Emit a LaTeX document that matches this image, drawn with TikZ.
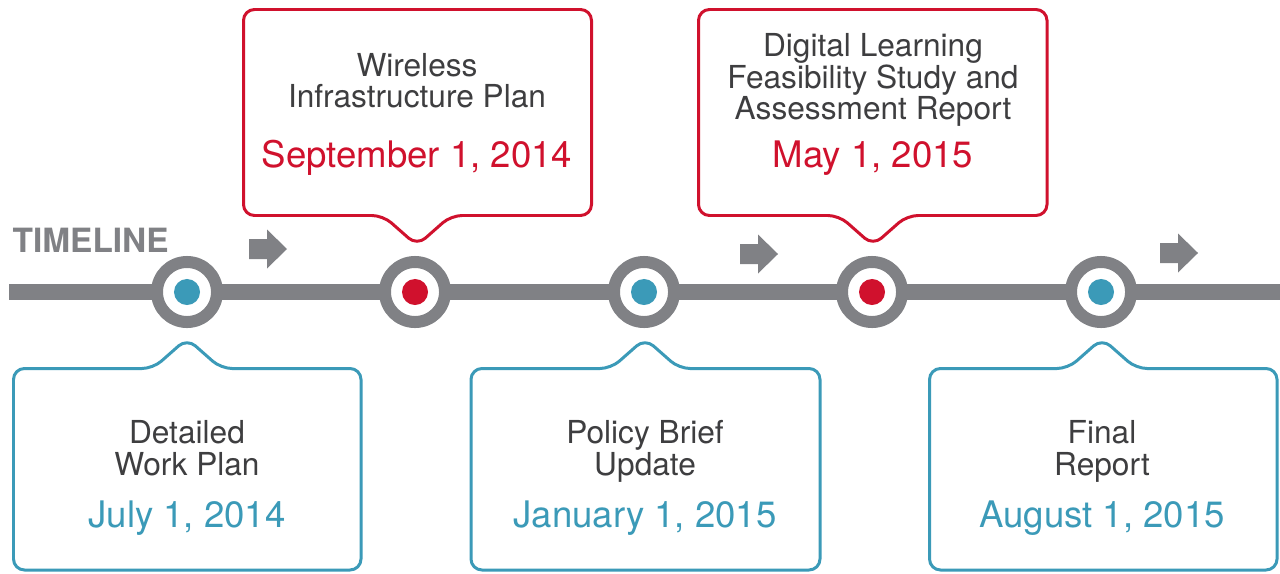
\documentclass[tikz,border=0pt]{standalone}
\usepackage{fontspec}
\setmainfont{TeX Gyre Heros}
\definecolor{tlred}{RGB}{208,17,45}
\definecolor{tlblue}{RGB}{59,154,184}
\definecolor{tlgray}{RGB}{128,129,133}
\definecolor{tltext}{RGB}{62,62,64}
\tikzset{
  ring/.style={circle, draw=tlgray, line width=3.41pt, fill=white, minimum size=0.6cm, inner sep=0pt},
  dot/.style={circle, minimum size=0.26cm, inner sep=0pt},
  callout/.style={line width=0.85pt, rounded corners=1.1mm, fill=white},
  title/.style={text=tltext, font=\fontsize{9}{9}\selectfont, align=center, anchor=base},
  date/.style={font=\fontsize{10.4}{11}\selectfont, anchor=base}
}

\begin{document}
\begin{tikzpicture}[x=0.01cm, y=-0.01cm]
  \useasboundingbox (0,0) rectangle (1280,573);
  % timeline bar
  \coordinate (start) at (9,292);
  \coordinate (end) at (1280,292);
  \draw[tlgray, line width=4.55pt] (start) -- (end);
  \node[anchor=base west, inner sep=0pt, text=tlgray, font=\fontsize{9.5}{10}\selectfont\bfseries] (tl) at (12,252) {TIMELINE};
  % direction arrows
  \foreach \x/\y in {249/249, 740/254, 1160/253}
    \fill[tlgray] (\x,\y-10) -- ++(18,0) -- ++(0,-9.5) -- ++(20,19.5) -- ++(-20,19.5) -- ++(0,-9.5) -- ++(-18,0) -- cycle;
  % milestones
  \node[ring] (m1) at (187,292) {};
  \node[ring] (m2) at (415,292) {};
  \node[ring] (m3) at (644,292) {};
  \node[ring] (m4) at (872,292) {};
  \node[ring] (m5) at (1101,292) {};
  \node[dot, fill=tlblue] (d1) at (m1) {};
  \node[dot, fill=tlred] (d2) at (m2) {};
  \node[dot, fill=tlblue] (d3) at (m3) {};
  \node[dot, fill=tlred] (d4) at (m4) {};
  \node[dot, fill=tlblue] (d5) at (m5) {};
  % callouts above
  \draw[callout, draw=tlred] (417,9.5) -- (591.5,9.5) -- (591.5,215.5) -- (451,215.5) -- (417,245.5)
        -- (383,215.5) -- (243.5,215.5) -- (243.5,9.5) -- cycle;
  \draw[callout, draw=tlred] (873,9.5) -- (1047,9.5) -- (1047,215.5) -- (907,215.5) -- (873,245.5)
        -- (839,215.5) -- (698.5,215.5) -- (698.5,9.5) -- cycle;
  % callouts below
  \draw[callout, draw=tlblue] (187,570) -- (13.5,570) -- (13.5,368.5) -- (153,368.5) -- (187,338.5)
        -- (221,368.5) -- (361,368.5) -- (361,570) -- cycle;
  \draw[callout, draw=tlblue] (645,570) -- (471,570) -- (471,368.5) -- (611,368.5) -- (645,338.5)
        -- (679,368.5) -- (820,368.5) -- (820,570) -- cycle;
  \draw[callout, draw=tlblue] (1102,570) -- (929.5,570) -- (929.5,368.5) -- (1068,368.5) -- (1102,338.5)
        -- (1136,368.5) -- (1277,368.5) -- (1277,570) -- cycle;
  % texts (base = last line)
  \node[title] (wip) at (417,108) {Wireless\\Infrastructure Plan};
  \node[date, text=tlred] (wipdate) at (417,167) {September 1, 2014};
  \node[title] (dlf) at (873,120) {Digital Learning\\Feasibility Study and\\Assessment Report};
  \node[date, text=tlred] (dlfdate) at (873,167) {May 1, 2015};
  \node[title] (dwp) at (187,475) {Detailed\\Work Plan};
  \node[date, text=tlblue] (dwpdate) at (187,527) {July 1, 2014};
  \node[title] (pbu) at (645,475) {Policy Brief\\Update};
  \node[date, text=tlblue] (pbudate) at (645,527) {January 1, 2015};
  \node[title] (frp) at (1102,475) {Final\\Report};
  \node[date, text=tlblue] (frpdate) at (1102,527) {August 1, 2015};
\end{tikzpicture}
\end{document}
